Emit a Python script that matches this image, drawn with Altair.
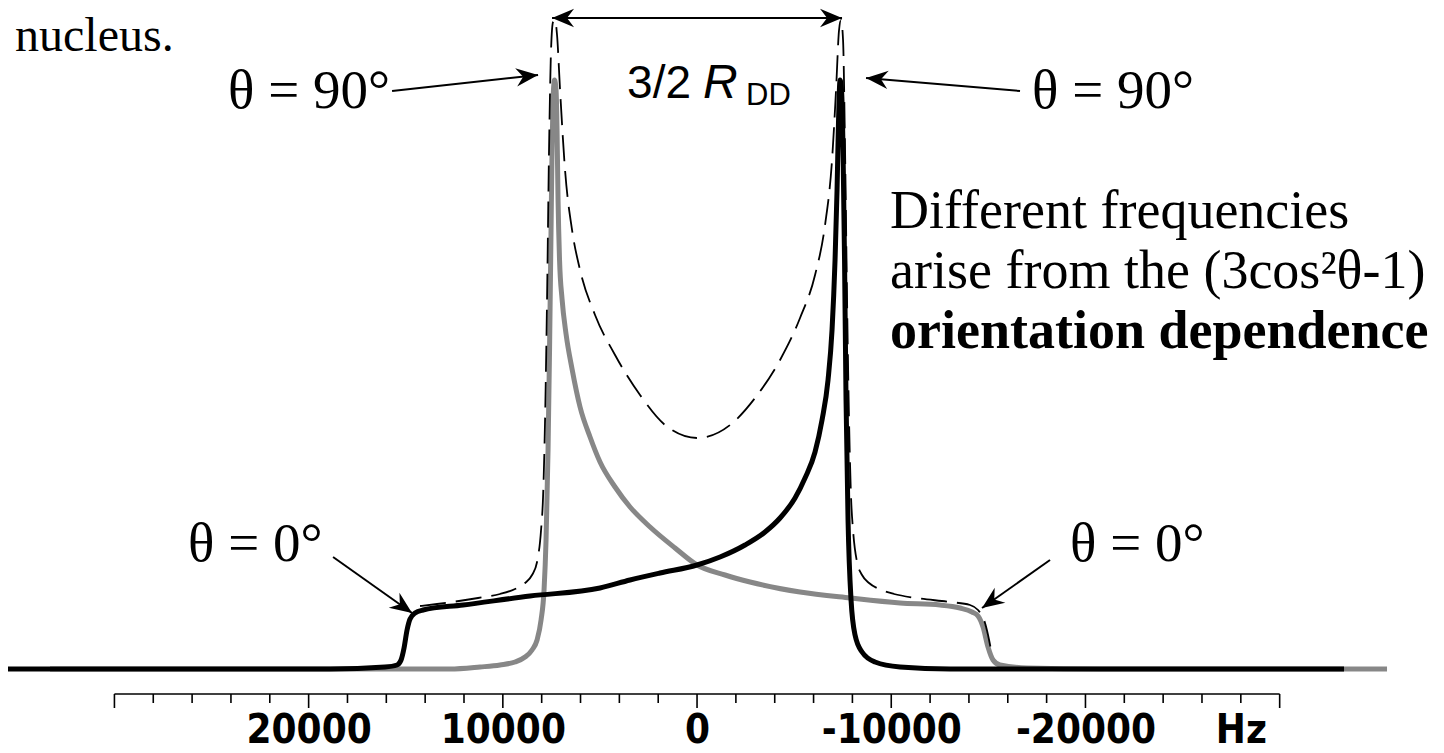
import altair as alt
import pandas as pd

# ---------------- data ----------------
# gray trace: horn at about +7.4 kHz, shoulder at about -14.8 kHz
gray_hz = [33315, 20442, 15293, 12718, 11173, 10144, 9371, 8856, 8496, 8238,
           8032, 7878, 7775, 7672, 7595, 7518, 7466, 7415, 7337, 7260,
           7209, 7157, 7080, 6951, 6745, 6436, 6024, 5509, 4995, 4222,
           3450, 2420, 1133, 0, -1442, -2729, -5303, -7878, -10452, -12512,
           -13542, -14160, -14469, -14726, -14983, -15241, -15601, -16992, -20750, -35528]
gray_int = [0, 0, 0, 0, 2, 4, 7, 12, 19, 29,
            49, 79, 129, 219, 319, 439, 519, 569, 589, 579,
            539, 469, 409, 370, 335, 300, 262, 232, 207, 182,
            162, 142, 121, 104, 94, 87, 77, 71, 66, 64,
            61, 57, 53, 42, 22, 9, 4, 1, 0, 0]

# black trace: shoulder at about +14.8 kHz, horn at about -7.4 kHz
black_hz = [35528, 18897, 16065, 15447, 15241, 15087, 14932, 14778, 14520, 14108,
            12049, 8599, 4995, 3450, 1905, 0, -1184, -2472, -3501, -4274,
            -5046, -5561, -6076, -6436, -6745, -6951, -7106, -7209, -7286, -7363,
            -7440, -7518, -7595, -7672, -7775, -7930, -8136, -8496, -9165, -10452,
            -13027, -33314]
black_int = [0, 0, 2, 4, 9, 21, 39, 50, 56, 59,
             64, 73, 81, 89, 96, 104, 112, 124, 137, 151,
             171, 191, 217, 249, 289, 339, 409, 479, 549, 589,
             579, 519, 409, 269, 149, 69, 34, 17, 7, 2,
             0, 0]

# dashed trace: the full Pake doublet
sum_hz = [14263, 13387, 11276, 10144, 9371, 8856, 8496, 8238, 8032, 7929,
          7826, 7724, 7621, 7518, 7415, 7312, 7209, 7054, 6797, 6436,
          6024, 5252, 4222, 2935, 1648, 0, -1699, -2986, -4274, -5303,
          -6076, -6591, -6951, -7157, -7312, -7415, -7518, -7621, -7724, -7826,
          -7929, -8032, -8238, -8496, -8856, -9371, -10144, -11276, -13027, -14056,
          -14469, -14778, -14983, -15138]
sum_int = [63, 65, 71, 75, 80, 86, 94, 107, 139, 172,
           249, 369, 519, 619, 647, 649, 634, 579, 499, 439,
           399, 354, 314, 274, 244, 231, 244, 271, 309, 351,
           394, 444, 509, 579, 639, 649, 629, 519, 369, 249,
           172, 139, 107, 94, 86, 80, 75, 71, 67, 64,
           59, 49, 34, 19]

tick_values = list(range(-30000, 30001, 2000))
label_values = [20000, 10000, 0, -10000, -20000, -28000]

# ---------------- layout ----------------
W, H = 1428, 686
xs = alt.Scale(domain=[35480, -38050], nice=False, zero=False)
ys = alt.Scale(domain=[-25, 661], nice=False, zero=False)

SERIF = "Liberation Serif, Times New Roman, serif"
SANS = "Liberation Sans, Arial, sans-serif"
NARROW = "Liberation Sans Narrow, Arial Narrow, DejaVu Sans Condensed, sans-serif"

xaxis = alt.Axis(values=label_values,
                 labelExpr="datum.value === -28000 ? 'Hz' : '' + datum.value",
                 domain=False, ticks=False, grid=False, title=None,
                 labelFont=NARROW, labelFontSize=40, labelFontWeight="bold",
                 labelColor="black", labelPadding=16, labelFlush=False,
                 labelOverlap=False)


def X(f="hz"):
    return alt.X(f"{f}:Q", scale=xs, axis=xaxis)


def Y(f="i"):
    return alt.Y(f"{f}:Q", scale=ys, axis=None)


def curve(hz, inten, color, width, dash=None):
    df = pd.DataFrame({"hz": hz, "i": inten, "k": range(len(hz))})
    kw = dict(color=color, strokeWidth=width, interpolate="monotone",
              strokeJoin="round", strokeCap="butt", clip=False)
    if dash:
        kw["strokeDash"] = dash
    return alt.Chart(df).mark_line(**kw).encode(x=X(), y=Y(), order="k:Q")


gray = curve(gray_hz, gray_int, "#878787", 5)
black = curve(black_hz, black_int, "#000000", 5)
dashed = curve(sum_hz, sum_int, "#000000", 1.8, dash=[26, 10])

# axis line and ticks
axis_df = pd.DataFrame({"hz": [30000], "hz2": [-30000], "i": [-25]})
axis_line = alt.Chart(axis_df).mark_rule(color="black", strokeWidth=1.6).encode(
    x=X(), x2=alt.X2("hz2:Q"), y=Y())
ticks_df = pd.DataFrame({"hz": tick_values})
ticks_df["i"] = -25
ticks_df["i2"] = [-25 - (14 if v % 10000 == 0 else 9) for v in tick_values]
ticks = alt.Chart(ticks_df).mark_rule(color="black", strokeWidth=1.6).encode(
    x=X(), y=Y(), y2=alt.Y2("i2:Q"))

# annotation arrows (start -> tip)
arrows = pd.DataFrame({
    "hz":  [7466, 15704, -16631, 18742, -18176],
    "i":   [651, 578, 578, 112, 109],
    "hz2": [-7466, 8187, -8702, 14675, -14675],
    "i2":  [651, 594, 591, 56, 61],
})
shafts = alt.Chart(arrows).mark_rule(color="black", strokeWidth=2).encode(
    x=X(), y=Y(), x2=alt.X2("hz2:Q"), y2=alt.Y2("i2:Q"))
heads_df = pd.DataFrame({
    "hz":  [7466, -7466, 8187, -8702, 14675, -14675],
    "i":   [651, 651, 594, 591, 56, 61],
    "ang": [180, 0, 353.75, 184.8, 35.3, 144.8],
})
ARROW = "M0,0 L-1,-0.42 L-0.68,0 L-1,0.42 Z"
heads = alt.Chart(heads_df).mark_point(
    shape=ARROW, filled=True, size=1936, color="black", opacity=1, strokeWidth=0
).encode(x=X(), y=Y(), angle=alt.Angle("ang:Q", scale=None))


def txt(text, hz, i, size, font=SERIF, weight="normal", style="normal"):
    df = pd.DataFrame({"hz": [hz], "i": [i], "t": [text]})
    return alt.Chart(df).mark_text(
        align="left", baseline="alphabetic", font=font, fontSize=size,
        fontWeight=weight, fontStyle=style, color="black", clip=False
    ).encode(x=X(), y=Y(), text="t:N")


texts = [
    txt("nucleus.", 35116, 618, 48),
    txt("θ = 90°", 24149, 561, 55),
    txt("θ = 90°", -17249, 561, 55),
    txt("3/2", 3604, 571, 46, font=SANS),
    txt("R", -309, 571, 48, font=SANS, style="italic"),
    txt("DD", -2524, 564, 31, font=SANS),
    txt("Different frequencies", -9938, 441, 54),
    txt("arise from the (3cos²θ-1)", -9938, 381, 54),
    txt("orientation dependence", -9938, 321, 54, weight="bold"),
    txt("θ = 0°", 26208, 108, 55),
    txt("θ = 0°", -19206, 108, 55),
]

chart = alt.layer(gray, black, dashed, axis_line, ticks, shafts, heads, *texts).properties(
    width=W, height=H,
    padding={"left": 0, "top": 0, "right": 0, "bottom": 59},
    autosize=alt.AutoSizeParams(type="none"),
).configure_view(stroke=None)

chart.save("out.html", embed_options={"renderer": "svg", "actions": False})
